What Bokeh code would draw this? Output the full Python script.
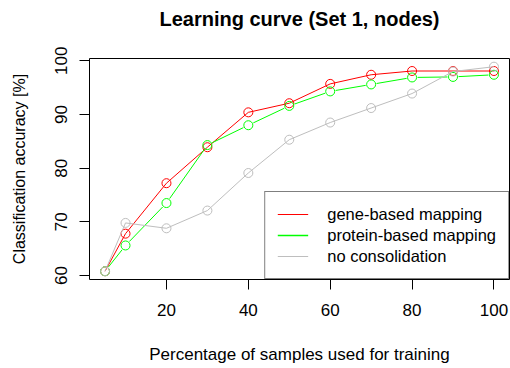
import math

from bokeh.embed import file_html
from bokeh.models import FixedTicker, Legend, LegendItem, Range1d, Title
from bokeh.plotting import figure
from bokeh.resources import INLINE

# Learning curve: share of samples used for training vs. classification accuracy
train_pct = [5, 10, 20, 30, 40, 50, 60, 70, 80, 90, 100]
gene_acc = [60.8, 67.8, 77.2, 83.9, 90.4, 92.1, 95.7, 97.4, 98.1, 98.1, 98.1]
protein_acc = [60.8, 65.6, 73.5, 84.3, 88.0, 91.6, 94.3, 95.6, 96.9, 97.0, 97.4]
none_acc = [60.8, 69.8, 68.8, 72.1, 79.1, 85.3, 88.5, 91.2, 93.9, 98.0, 98.9]

x_ticks = [20, 40, 60, 80, 100]
y_ticks = [60, 70, 80, 90, 100]
series_names = ["gene-based mapping", "protein-based mapping", "no consolidation"]

FONT = "Liberation Sans"
RED, GREEN, GRAY = "#FF0000", "#00FF00", "#BEBEBE"

W, H = 510, 368
LEFT, RIGHT, TOP, BOTTOM = 89, 1, 57, 89
x0, x1 = 1.2, 103.8
y0, y1 = 59.26, 100.43

p = figure(
    width=W, height=H,
    x_range=Range1d(x0, x1), y_range=Range1d(y0, y1),
    output_backend="svg", toolbar_location=None,
    min_border_left=LEFT, min_border_right=RIGHT,
    min_border_top=TOP, min_border_bottom=BOTTOM,
    background_fill_color="white", border_fill_color="white",
)
p.outline_line_color = "#000000"
p.outline_line_width = 1
p.grid.visible = False

p.title.text = "Learning curve (Set 1, nodes)"
p.title.align = "center"
p.title.text_font = FONT
p.title.text_font_size = "20px"
p.title.text_font_style = "bold"
p.title.text_color = "black"
# blank spacer between the title and the frame
p.add_layout(Title(text=" ", text_font=FONT, text_font_size="11px"), "above")

for ax in (p.xaxis[0], p.yaxis[0]):
    ax.axis_line_color = None
    ax.major_tick_in = 0
    ax.major_tick_out = 10
    ax.major_tick_line_color = "#000000"
    ax.minor_tick_out = 0
    ax.minor_tick_in = 0
    ax.major_label_text_font = FONT
    ax.major_label_text_font_size = "17px"
    ax.major_label_text_color = "black"
    ax.axis_label_text_font = FONT
    ax.axis_label_text_font_style = "normal"
    ax.axis_label_text_color = "black"

p.xaxis.axis_label_text_font_size = "17px"
p.yaxis.axis_label_text_font_size = "16px"
p.xaxis.ticker = FixedTicker(ticks=x_ticks, minor_ticks=[])
p.yaxis.ticker = FixedTicker(ticks=y_ticks, minor_ticks=[])
p.yaxis.major_label_orientation = "vertical"
p.xaxis.major_label_standoff = 14
p.yaxis.major_label_standoff = 12
p.xaxis.axis_label = "Percentage of samples used for training"
p.yaxis.axis_label = "Classification accuracy [%]"
p.xaxis.axis_label_standoff = 26
p.yaxis.axis_label_standoff = 25

# gene-based: line through the points
gene_line = p.line(train_pct, gene_acc, line_color=RED, line_width=1)
p.scatter(train_pct, gene_acc, size=9, fill_color=None, line_color=RED, line_width=1)

# protein-based: segments stop short of each point marker
px_per_x = (W - LEFT - RIGHT) / (x1 - x0)
px_per_y = (H - TOP - BOTTOM) / (y1 - y0)
gap = 5.5
sx0, sy0, sx1, sy1 = [], [], [], []
for (xa, ya), (xb, yb) in zip(zip(train_pct, protein_acc), zip(train_pct[1:], protein_acc[1:])):
    dxp = (xb - xa) * px_per_x
    dyp = (yb - ya) * px_per_y
    length = math.hypot(dxp, dyp)
    if length <= 2 * gap:
        continue
    f = gap / length
    sx0.append(xa + (xb - xa) * f)
    sy0.append(ya + (yb - ya) * f)
    sx1.append(xb - (xb - xa) * f)
    sy1.append(yb - (yb - ya) * f)
p.segment(sx0, sy0, sx1, sy1, line_color=GREEN, line_width=1)
p.scatter(train_pct, protein_acc, size=9, fill_color=None, line_color=GREEN, line_width=1)
# off-canvas line carrying the legend swatch for the protein series
protein_key = p.line([math.nan], [math.nan], line_color=GREEN, line_width=1.5)

# no consolidation
none_line = p.line(train_pct, none_acc, line_color=GRAY, line_width=1)
p.scatter(train_pct, none_acc, size=9, fill_color=None, line_color=GRAY, line_width=1)

legend = Legend(
    items=[
        LegendItem(label=series_names[0], renderers=[gene_line]),
        LegendItem(label=series_names[1], renderers=[protein_key]),
        LegendItem(label=series_names[2], renderers=[none_line]),
    ],
    location="bottom_right",
    margin=0, padding=12, spacing=1,
    glyph_width=31, glyph_height=20, label_height=20, label_width=168,
    label_standoff=19,
    label_text_font=FONT, label_text_font_size="16.5px", label_text_color="black",
    border_line_color="#000000", border_line_width=1,
    background_fill_color="white", background_fill_alpha=1,
)
p.add_layout(legend)

open("out.html", "w").write(file_html(p, INLINE))
